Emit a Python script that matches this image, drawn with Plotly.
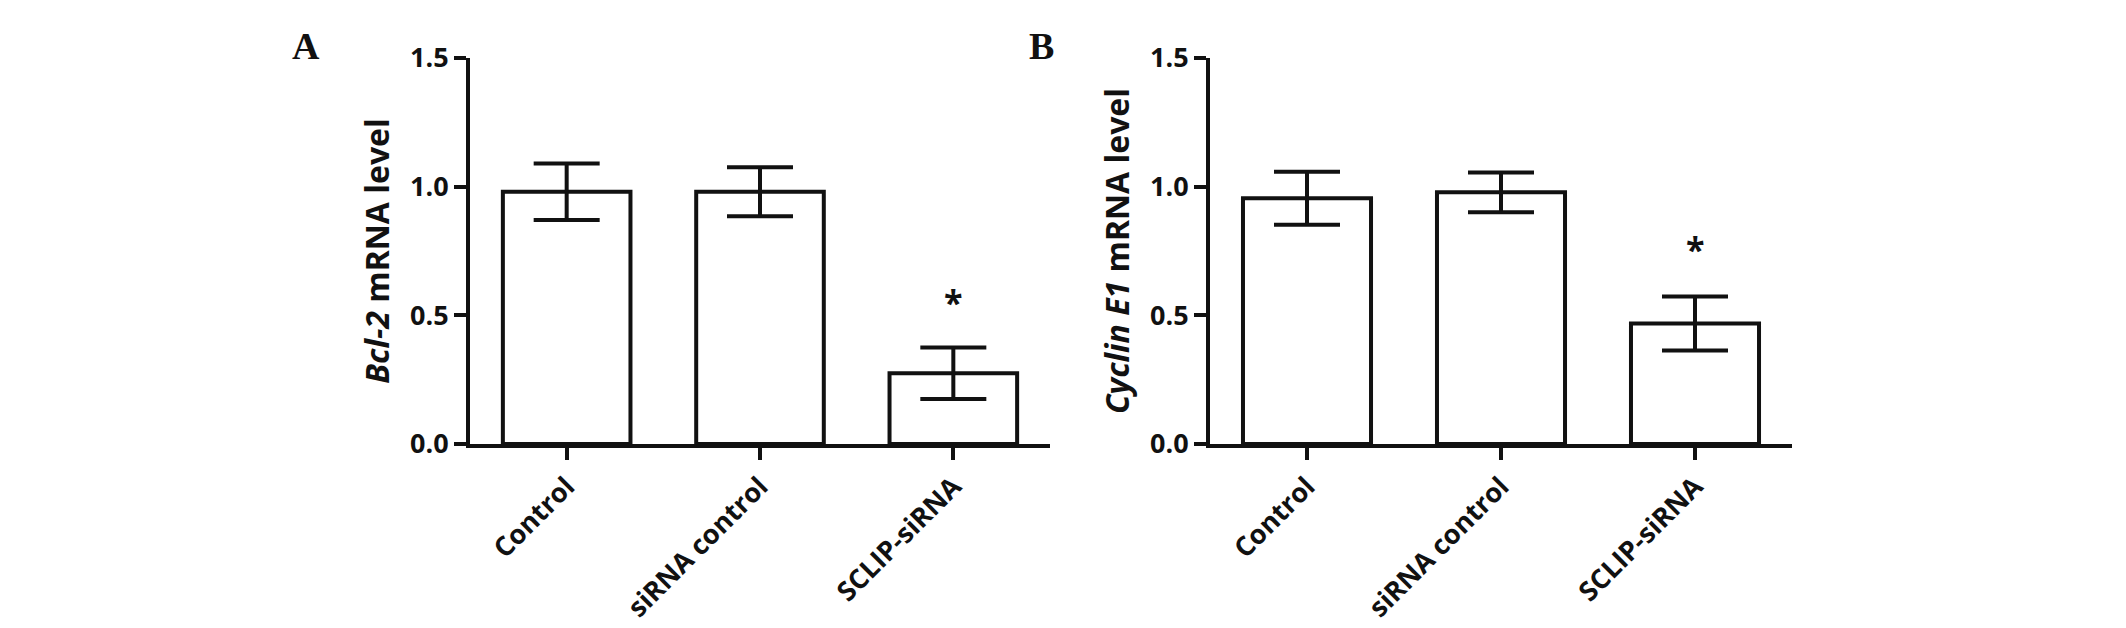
import plotly.graph_objects as go

categories = ["Control", "siRNA control", "SCLIP-siRNA"]

bcl2_mean = [0.98, 0.98, 0.275]
bcl2_sem = [0.11, 0.095, 0.10]

cyclin_mean = [0.955, 0.978, 0.468]
cyclin_sem = [0.103, 0.077, 0.105]

yticks = [0.0, 0.5, 1.0, 1.5]
ytick_text = ["0.0", "0.5", "1.0", "1.5"]

FONT = "Open Sans"
BLACK = "#111111"

fig = go.Figure()

for data_mean, data_sem, xa, ya in [
    (bcl2_mean, bcl2_sem, "x", "y"),
    (cyclin_mean, cyclin_sem, "x2", "y2"),
]:
    fig.add_trace(go.Bar(
        x=categories, y=data_mean, xaxis=xa, yaxis=ya,
        width=0.66,
        marker=dict(color="white", line=dict(color=BLACK, width=4)),
        error_y=dict(type="data", array=data_sem, visible=True,
                     color=BLACK, thickness=4, width=33),
        showlegend=False, hoverinfo="skip",
    ))

W, H = 2126, 628
MT = 40
PH = H - MT


def py(ypx):
    return (H - ypx) / PH


yd = [py(444), py(58)]

axis_common = dict(
    showgrid=False, zeroline=False, showline=True, linecolor=BLACK, linewidth=4,
    ticks="outside", ticklen=12, tickwidth=4, tickcolor=BLACK, automargin=False,
)

fig.update_layout(
    width=W, height=H, autosize=False,
    margin=dict(l=0, r=0, t=MT, b=0),
    paper_bgcolor="white", plot_bgcolor="white",
    font=dict(family=FONT, color=BLACK, size=26, weight="bold"),
    xaxis=dict(domain=[470 / W, 1050 / W], anchor="y", range=[-0.5, 2.5],
               tickangle=-45, tickfont=dict(size=27), **axis_common),
    yaxis=dict(domain=yd, anchor="x", range=[0, 1.5], tickvals=yticks, ticktext=ytick_text,
               tickfont=dict(size=27),
               title=dict(text="<i>Bcl-2</i> mRNA level", font=dict(size=32), standoff=12),
               **axis_common),
    xaxis2=dict(domain=[1210 / W, 1792 / W], anchor="y2", range=[-0.5, 2.5],
                tickangle=-45, tickfont=dict(size=27), **axis_common),
    yaxis2=dict(domain=yd, anchor="x2", range=[0, 1.5], tickvals=yticks, ticktext=ytick_text,
                tickfont=dict(size=27),
                title=dict(text="<i>Cyclin E1</i> mRNA level", font=dict(size=32), standoff=12),
                **axis_common),
)

# significance asterisks
fig.add_annotation(x=categories[2], y=bcl2_mean[2] + bcl2_sem[2], xref="x", yref="y",
                   text="*", showarrow=False, yshift=46, font=dict(size=34))
fig.add_annotation(x=categories[2], y=cyclin_mean[2] + cyclin_sem[2], xref="x2", yref="y2",
                   text="*", showarrow=False, yshift=48, font=dict(size=34))

# panel labels
fig.add_annotation(x=306 / W, y=py(46), xref="paper", yref="paper", text="A",
                   xanchor="center", yanchor="middle",
                   showarrow=False, font=dict(family="Liberation Serif", size=38, weight="bold"))
fig.add_annotation(x=1041 / W, y=py(46), xref="paper", yref="paper", text="B",
                   xanchor="center", yanchor="middle",
                   showarrow=False, font=dict(family="Liberation Serif", size=38, weight="bold"))

fig.write_html(
    "out.html",
    config={"displayModeBar": False},
    post_script="document.body.style.margin='0';document.body.style.overflow='hidden';",
)
